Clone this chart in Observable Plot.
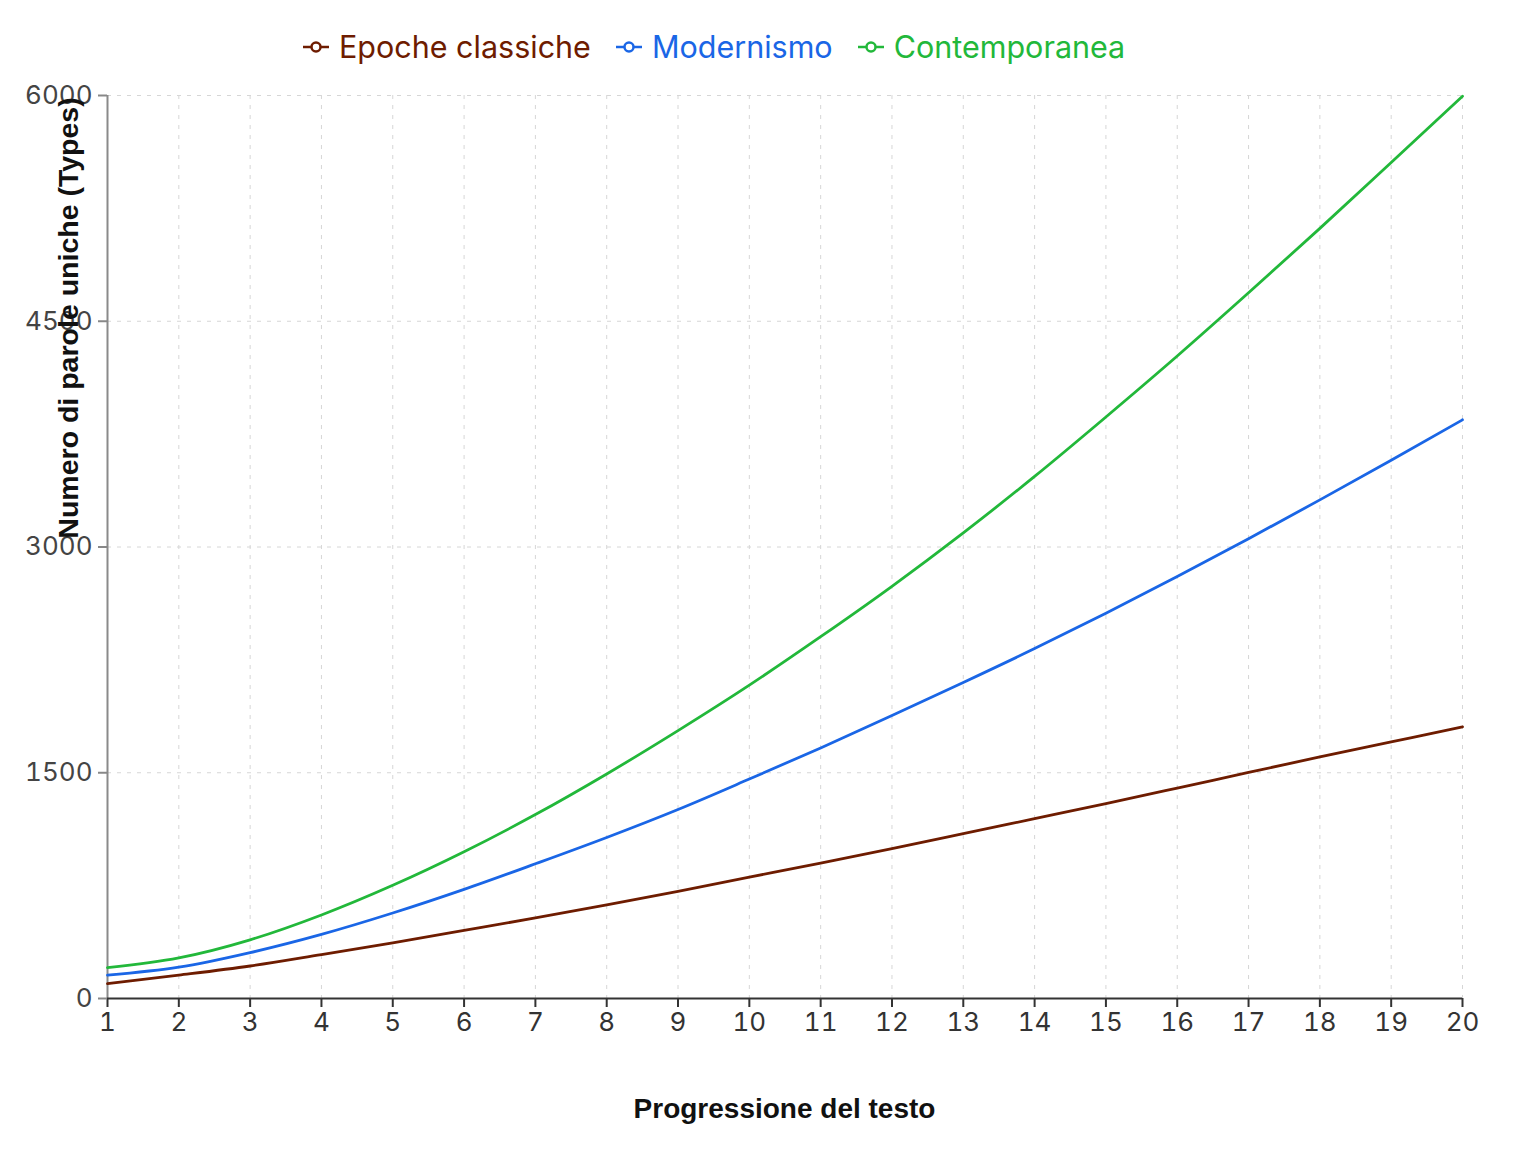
<!DOCTYPE html>
<html>
<head>
<meta charset="utf-8">
<script src="https://cdn.jsdelivr.net/npm/d3@7"></script>
<script src="https://cdn.jsdelivr.net/npm/@observablehq/plot@0.6"></script>
<style>
  html, body { margin: 0; padding: 0; background: #fff; }
  body { width: 1514px; height: 1168px; position: relative; overflow: hidden; font-family: Inter, "Liberation Sans", Arial, sans-serif; }
  #chart { position: absolute; top: 0; left: 0; z-index: 1; }
  #legend { position: absolute; top: 28px; left: 302px; z-index: 2; display: flex; align-items: center; font-size: 30.5px; line-height: 38px; white-space: nowrap; }
  #legend .item { display: flex; align-items: center; margin-right: 24px; }
  #legend svg { margin-right: 9px; }
</style>
</head>
<body>
<div id="chart"></div>
<div id="legend"></div>
<script>
const progress = [1,2,3,4,5,6,7,8,9,10,11,12,13,14,15,16,17,18,19,20];
const seriesNames = ["Epoche classiche", "Modernismo", "Contemporanea"];
const seriesColors = ["#6e1c00", "#1a66e6", "#22b83a"];
const classiche = [99,155,216,292,370,452,535,622,712,806,900,996,1095,1195,1295,1398,1502,1605,1705,1805];
const modernismo = [155,208,305,426,568,725,895,1070,1256,1458,1665,1880,2100,2325,2560,2804,3055,3313,3577,3845];
const contemporanea = [205,270,390,555,752,975,1222,1492,1780,2082,2404,2739,3094,3469,3864,4269,4689,5117,5555,5995];
const yTicks = [0,1500,3000,4500,6000];
const xLabel = "Progressione del testo";
const yLabel = "Numero di parole uniche (Types)";

const valuesBySeries = [classiche, modernismo, contemporanea];
const data = [];
seriesNames.forEach((s, i) => progress.forEach((p, j) => data.push({serie: s, x: p, y: valuesBySeries[i][j]})));

const tickFont = "Inter, 'Liberation Sans', Arial, sans-serif";
const titleFont = "'Liberation Sans', Arial, sans-serif";

const chart = Plot.plot({
  width: 1514,
  height: 1168,
  marginLeft: 107,
  marginRight: 52,
  marginTop: 95,
  marginBottom: 170,
  style: {fontFamily: tickFont, background: "#fff"},
  x: {domain: [1, 20], ticks: progress},
  y: {domain: [0, 6000], ticks: yTicks},
  color: {domain: seriesNames, range: seriesColors},
  marks: [
    Plot.gridX(progress, {stroke: "#d6d6d6", strokeOpacity: 1, strokeDasharray: "4,6"}),
    Plot.gridY(yTicks, {stroke: "#d6d6d6", strokeOpacity: 1, strokeDasharray: "4,6"}),
    Plot.ruleX([1], {stroke: "#8a8a8a", strokeWidth: 2}),
    Plot.ruleY([0], {stroke: "#333", strokeWidth: 2}),
    Plot.axisX(progress, {tickSize: 9, tickPadding: 5, fontSize: 26, fill: "#333", stroke: "#333", strokeWidth: 2, label: null, tickFormat: d => String(d)}),
    Plot.axisY(yTicks, {tickSize: 9, tickPadding: 6, fontSize: 26, fill: "#444", stroke: "#888", strokeWidth: 2, label: null, tickFormat: d => String(d)}),
    Plot.line(data, {x: "x", y: "y", stroke: "serie", strokeWidth: 2.8, curve: "monotone-x"})
  ]
});

const svg = d3.select(chart);
svg.append("text")
  .attr("x", 784.5).attr("y", 1118)
  .attr("text-anchor", "middle")
  .attr("font-size", 28).attr("font-weight", "bold").attr("fill", "#111")
  .style("font-family", titleFont)
  .text(xLabel);
svg.append("text")
  .attr("transform", "translate(78,318) rotate(-90)")
  .attr("text-anchor", "middle")
  .attr("font-size", 28.5).attr("font-weight", "bold").attr("fill", "#111")
  .style("font-family", titleFont)
  .text(yLabel);

document.getElementById("chart").appendChild(chart);

const legend = d3.select("#legend");
seriesNames.forEach((name, i) => {
  const item = legend.append("div").attr("class", "item").style("color", seriesColors[i]);
  const s = item.append("svg").attr("width", 28).attr("height", 16);
  s.append("line").attr("x1", 1).attr("x2", 27).attr("y1", 8).attr("y2", 8).attr("stroke", seriesColors[i]).attr("stroke-width", 2.5);
  s.append("circle").attr("cx", 14).attr("cy", 8).attr("r", 4.5).attr("fill", "#fff").attr("stroke", seriesColors[i]).attr("stroke-width", 2.5);
  item.append("span").text(name);
});
</script>
</body>
</html>
